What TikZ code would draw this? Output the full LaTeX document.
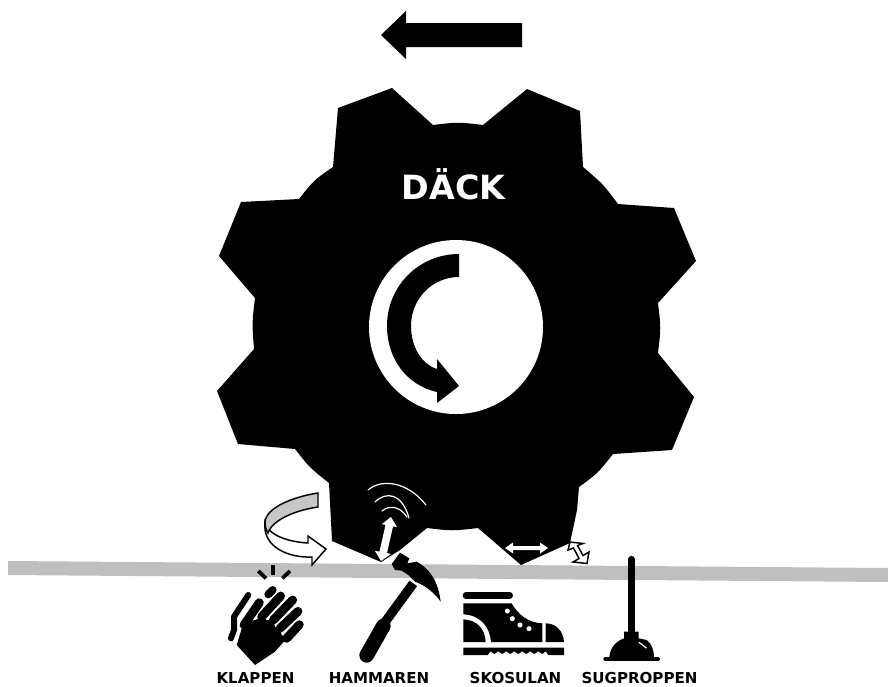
\documentclass[tikz,border=0pt]{standalone}
\usepackage{fontspec}
\setmainfont{DejaVu Sans}
\tikzset{
  lbl/.style={font=\fontsize{11.3pt}{13pt}\selectfont\bfseries,text=black,inner sep=0pt,anchor=center},
  ink/.style={fill=black,draw=none},
  wave/.style={draw=white,line width=0.9pt,line cap=round},
  finger/.style={draw=black,line width=6.6pt,line cap=round},
  spark/.style={draw=black,line width=2.8pt,line cap=butt}
}
\begin{document}
\begin{tikzpicture}[x=0.75pt,y=-0.75pt]
\useasboundingbox (0,0) rectangle (888,686);
% ground
\fill[fill=black!25] (8,561) -- (888,568) -- (888,582) -- (8,575) -- cycle;
% direction arrow
\fill[ink] (381,35) -- (406,11) -- (406,23) -- (522,23) -- (522,47) -- (406,47) -- (406,59) -- cycle;
% gear
\fill[ink] (338,108) -- (392,88) -- (433,125) .. controls (458,122) .. (483,125) -- (527,89) -- (580,111) -- (583,167)
  .. controls (603,184) .. (618,204) -- (674,208) -- (696,261) -- (658,303)
  .. controls (661,328) .. (658,353) -- (694,397) -- (672,450) -- (613,454)
  .. controls (598,473) .. (579,487) -- (577,510) -- (570,543) -- (521,565) -- (478,528)
  .. controls (452,531) .. (427,528) -- (400,550) -- (381,562) -- (332,541) -- (329,483)
  .. controls (310,468) .. (295,449) -- (238,444) -- (217,391) -- (254,349)
  .. controls (252,323) .. (255,298) -- (219,256) -- (241,202) -- (299,199)
  .. controls (314,180) .. (333,167) -- cycle;
% hub
\fill[white] (456,327) ellipse [x radius=87, y radius=87];
% rotation arrow in hub
\fill[ink] (459,254) .. controls (419,254) and (387,286) .. (387,326) .. controls (387,358) and (406,385) .. (437,392)
  -- (437,403) -- (459,386) -- (437,359) -- (437,369) .. controls (421,364) and (411,346) .. (411,326)
  .. controls (411,299) and (432,277) .. (459,277) -- cycle;
\node[text=white,font=\fontsize{25pt}{30pt}\selectfont\bfseries,inner sep=0pt] (title) at (453.5,184.5) {DÄCK};
% impact waves
\draw[wave] (368,490) .. controls (382,478) and (408,482) .. (426,505);
\draw[wave] (375,502) .. controls (386,491) and (402,493) .. (409,518);
\draw[wave] (382,511) .. controls (389,505) and (400,506) .. (407,517);
% white double arrows
\fill[white] (391,517) -- (397,527) -- (393,526.5) -- (387,553) -- (391,554) -- (381,561) -- (375,551) -- (379.5,551.5) -- (385.5,525) -- (382,524) -- cycle;
\fill[white] (505,548) -- (513,542.5) -- (513,546) -- (540,546) -- (540,542.5) -- (548,548) -- (540,553.5) -- (540,550) -- (513,550) -- (513,553.5) -- cycle;
% hollow double arrow
\draw[fill=white,draw=black,line width=1.1pt,line join=miter] (570,542) -- (583,543.5) -- (577.5,545.5) -- (583,555.5) -- (589,552) -- (587,563.5) -- (573,562) -- (579,558.5) -- (573.5,548) -- (568,550) -- cycle;
% curl arrow
\draw[fill=white,draw=black,line width=1.1pt] (265,522) .. controls (268,536) and (290,542) .. (308,543) -- (308,536) -- (326,549) -- (312,565) -- (312,557)
  .. controls (290,558) and (262,548) .. (265,522) -- cycle;
\draw[fill=black!22,draw=black,line width=1.1pt] (318,493) .. controls (292,497) and (266,508) .. (265,522) .. controls (265,526) and (266,530) .. (268,533)
  .. controls (272,520) and (296,510) .. (318,507) -- cycle;
% clapping hand
\begin{scope}[shift={(220,560)},x=0.25pt,y=-0.25pt]
  \draw[spark] (115,33) -- (138,55);
  \draw[spark] (160,15) -- (160,46);
  \draw[spark] (210,33) -- (187,55);
  \draw[draw=black,line width=6pt,line cap=round] (145,103) -- (158,90);
  \draw[draw=black,line width=4.5pt,line cap=round,line join=round] (85,105) -- (42,170) -- (42,210) -- (33,235);
  \fill[ink] (50,255) -- (70,190) -- (105,180) -- (125,170) -- (140,180) -- (160,180) -- (165,200) -- (180,205) -- (185,225) -- (200,235) -- (165,275) -- (105,315) -- cycle;
  \draw[finger] (72,195) -- (118,128);
  \draw[finger] (125,170) -- (182,108);
  \draw[finger] (160,180) -- (218,120);
  \draw[finger] (180,205) -- (234,154);
  \draw[finger] (200,235) -- (238,194);
\end{scope}
% hammer
\begin{scope}[shift={(350,480)},x=0.25pt,y=-0.25pt]
  \draw[draw=black,line width=11pt,line cap=round] (50,526) -- (100,438);
  \draw[draw=black,line width=7pt] (95,440) -- (190,310);
  \fill[ink] (125,252) -- (150,218) -- (178,235) -- (172,250) -- (200,245) .. controls (245,270) and (265,310) .. (272,365)
    .. controls (255,340) and (225,315) .. (195,305) -- (175,285) -- (155,272) -- (135,270) -- cycle;
\end{scope}
% boot
\begin{scope}[shift={(455,580)},x=0.25pt,y=-0.25pt]
  \draw[draw=black,line width=5pt,line cap=round] (33,46) -- (164,46);
  \fill[ink] (25,70) -- (170,70) .. controls (190,105) and (220,128) .. (262,130) -- (262,186) -- (108,186)
    .. controls (105,140) and (75,105) .. (25,103) -- cycle;
  \fill[ink] (25,118) .. controls (65,120) and (90,145) .. (92,186) -- (25,186) -- cycle;
  \fill[ink] (272,130) .. controls (305,130) and (325,155) .. (327,186) -- (272,186) -- cycle;
  \fill[ink] (25,203) -- (327,203) -- (327,225) -- (280,225) -- (272,214) -- (262,222) -- (250,214) -- (238,222) -- (226,214) -- (214,222) -- (202,214) -- (190,222) -- (178,214) -- (166,222) -- (154,214) -- (142,222) -- (130,214) -- (118,222) -- (106,214) -- (98,225) -- (25,225) -- cycle;
  \foreach \dx/\dy in {157/93,172/116,195/135,222/146}{\fill[white] (\dx,\dy) circle [radius=1.9pt];}
\end{scope}
% plunger
\begin{scope}[shift={(450,500)},x=0.25pt,y=-0.25pt]
  \draw[draw=black,line width=5.2pt,line cap=round] (544,178) -- (544,400);
  \fill[ink] (522,395) -- (566,395) -- (566,415) -- (590,420) .. controls (605,432) and (612,450) .. (612,472) -- (478,472)
    .. controls (480,445) and (495,425) .. (522,415) -- cycle;
  \draw[draw=black,line width=3pt,line cap=round] (466,477) -- (624,477);
  \draw[draw=white,line width=0.9pt,line cap=round] (567,427) -- (589,444);
\end{scope}
% labels
\node[lbl] (klappen) at (255.5,678) {KLAPPEN};
\node[lbl] (hammaren) at (379,678) {HAMMAREN};
\node[lbl] (skosulan) at (515.5,678) {SKOSULAN};
\node[lbl] (sugproppen) at (639.5,678) {SUGPROPPEN};
\end{tikzpicture}
\end{document}
